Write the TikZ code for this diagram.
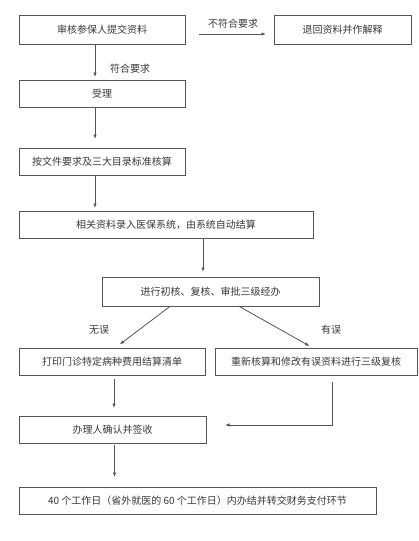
\documentclass[tikz,border=0pt]{standalone}
\usepackage{fontspec}
\setmainfont{Noto Sans CJK SC}
\usepackage{tikz}
\usetikzlibrary{arrows.meta,positioning,calc}
\usepackage{xcolor}
\definecolor{linegray}{RGB}{85,85,85}
\definecolor{textgray}{RGB}{55,55,55}

\begin{document}
\begin{tikzpicture}[
    node distance=36pt,
    box/.style={rectangle, draw=linegray, line width=0.9pt, minimum height=27pt, inner sep=0pt, outer sep=0pt, font=\fontsize{10}{12}\selectfont, text=textgray},
    arr/.style={draw=linegray, line width=0.8pt, -{Latex[length=4.5pt,width=3.5pt]}},
    lbl/.style={font=\fontsize{10}{12}\selectfont, text=textgray}
]
    \useasboundingbox (0,0) rectangle (419pt,-541pt);

    \node[box, minimum width=166pt, minimum height=29pt, anchor=north west] (submit) at (19pt,-15pt) {审核参保人提交资料};
    \node[box, minimum width=137pt, minimum height=29pt, right=89pt of submit] (reject) {退回资料并作解释};

    \node[box, minimum width=166pt, below right=36pt and 0pt of submit.south west] (accept) {受理};
    \node[box, minimum width=166pt, below right=41pt and 0pt of accept.south west] (check) {按文件要求及三大目录标准核算};
    \node[box, minimum width=294pt, below right=36pt and 0pt of check.south west] (entry) {相关资料录入医保系统，由系统自动结算};
    \node[box, minimum width=217pt, minimum height=29pt, below right=39pt and 83pt of entry.south west] (review) {进行初核、复核、审批三级经办};

    \node[box, minimum width=186pt, below right=42pt and -83pt of review.south west] (print) {打印门诊特定病种费用结算清单};
    \node[box, minimum width=202pt, right=10pt of print] (redo) {重新核算和修改有误资料进行三级复核};

    \node[box, minimum width=187pt, below right=41pt and 0pt of print.south west] (sign) {办理人确认并签收};
    \node[box, minimum width=357pt, below right=44pt and 0pt of sign.south west] (finish) {40 个工作日（省外就医的 60 个工作日）内办结并转交财务支付环节};

    \draw[arr, shorten <=14pt, shorten >=8pt] ([yshift=-4.5pt]submit.east) -- ([yshift=-4.5pt]submit.east -| reject.west);
    \node[lbl] at (233pt,-24pt) {不符合要求};

    \draw[arr, shorten >=3pt] ([xshift=-7pt]submit.south) -- ([xshift=-7pt]submit.south |- accept.north);
    \node[lbl] at (130pt,-69pt) {符合要求};

    \draw[arr, shorten >=9pt] ([xshift=-7pt]accept.south) -- ([xshift=-7pt]accept.south |- check.north);
    \draw[arr, shorten >=3pt] ([xshift=-7pt]check.south) -- ([xshift=-7pt]check.south |- entry.north);
    \draw[arr, shorten >=5pt] ([xshift=-7.5pt]review.north |- entry.south) -- ([xshift=-7.5pt]review.north);

    \draw[arr, shorten >=6pt] ([xshift=-40pt]review.south) -- ([xshift=3pt]print.north);
    \node[lbl] at (99pt,-330pt) {无误};
    \draw[arr, shorten >=4pt] ([xshift=28pt]review.south) -- ([xshift=-3pt]redo.north);
    \node[lbl] at (331pt,-330pt) {有误};

    \draw[arr, shorten <=4pt, shorten >=8pt] ([xshift=2pt]print.south) -- ([xshift=2pt]print.south |- sign.north);
    \draw[arr, shorten <=7pt, shorten >=19pt] ([xshift=16pt]redo.south) |- ([yshift=4.5pt]sign.east);

    \draw[arr, shorten <=2pt, shorten >=10pt] ([xshift=2pt]sign.south) -- ([xshift=2pt]sign.south |- finish.north);
\end{tikzpicture}
\end{document}
